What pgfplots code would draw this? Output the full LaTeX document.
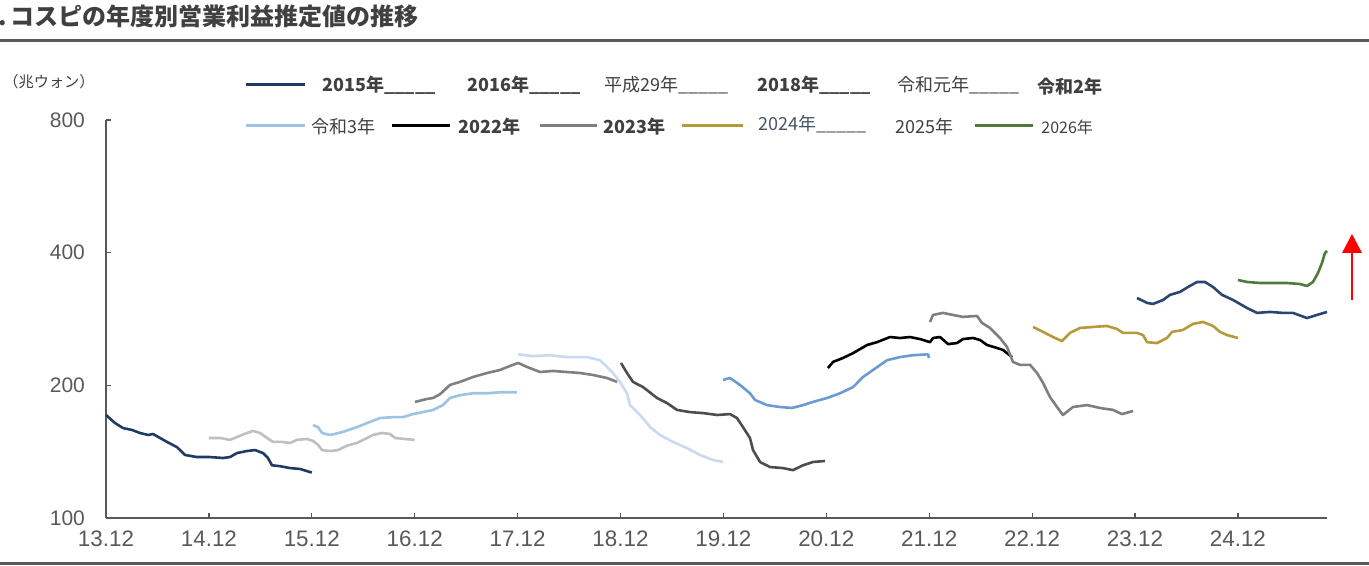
\documentclass[border=0pt]{standalone}
\usepackage{fontspec}
\setmainfont{Liberation Sans}
\newfontfamily\jp{Noto Sans CJK JP}
\usepackage{pgfplots}
\pgfplotsset{compat=1.18}
\definecolor{cA}{HTML}{1F3B63}
\definecolor{cB}{HTML}{BFBFBF}
\definecolor{cC}{HTML}{9DC3E6}
\definecolor{cD}{HTML}{808080}
\definecolor{cE}{HTML}{C9DAF0}
\definecolor{cF}{HTML}{4D4D4D}
\definecolor{cG}{HTML}{6A9BD3}
\definecolor{cH}{HTML}{000000}
\definecolor{cI}{HTML}{7F7F7F}
\definecolor{cJ}{HTML}{B59A3A}
\definecolor{cK}{HTML}{2A4670}
\definecolor{cL}{HTML}{4E7A3A}
\definecolor{txt}{HTML}{404040}
\definecolor{axg}{HTML}{595959}
\definecolor{lg24}{HTML}{44546A}
\begin{document}
\begin{tikzpicture}
\begin{scope}[x=0.5pt,y=-0.5pt]
\useasboundingbox (0,0) rectangle (1369,566);
\draw[line width=1.1pt, axg] (0,40.5) -- (1369,40.5);
\draw[line width=1.1pt, axg] (0,563.5) -- (1369,563.5);
\node[anchor=west, inner sep=0pt, font=\jp\bfseries\fontsize{12}{14}\selectfont, text=txt] at (-2,16) {.\,コスピの年度別営業利益推定値の推移};
\node[anchor=west, inner sep=0pt, font=\jp\fontsize{7.6}{9}\selectfont, text=txt] at (3,82) {（兆ウォン）};
% legend row 1
\draw[line width=1.5pt, cA] (246,85) -- (305,85);
\node[anchor=west, inner sep=0pt, font=\jp\bfseries\fontsize{9}{10}\selectfont, text=txt] at (322,85) {2015年\_\_\_\_\_};
\node[anchor=west, inner sep=0pt, font=\jp\bfseries\fontsize{9}{10}\selectfont, text=txt] at (467,85) {2016年\_\_\_\_\_};
\node[anchor=west, inner sep=0pt, font=\jp\fontsize{9}{10}\selectfont, text=txt] at (604,85) {平成29年\_\_\_\_\_};
\node[anchor=west, inner sep=0pt, font=\jp\bfseries\fontsize{9}{10}\selectfont, text=txt] at (757,85) {2018年\_\_\_\_\_};
\node[anchor=west, inner sep=0pt, font=\jp\fontsize{9}{10}\selectfont, text=txt] at (897,85) {令和元年\_\_\_\_\_};
\node[anchor=west, inner sep=0pt, font=\jp\bfseries\fontsize{9}{10}\selectfont, text=txt] at (1037,87) {令和2年};
% legend row 2
\draw[line width=1.5pt, cC] (246,126) -- (305,126);
\node[anchor=west, inner sep=0pt, font=\jp\fontsize{9}{10}\selectfont, text=txt] at (311,127) {令和3年};
\draw[line width=1.5pt, cH] (392,126) -- (450,126);
\node[anchor=west, inner sep=0pt, font=\jp\bfseries\fontsize{9}{10}\selectfont, text=txt] at (458,127) {2022年};
\draw[line width=1.5pt, cI] (540,126) -- (597,126);
\node[anchor=west, inner sep=0pt, font=\jp\bfseries\fontsize{9}{10}\selectfont, text=txt] at (603,127) {2023年};
\draw[line width=1.5pt, cJ] (682,126) -- (743,126);
\node[anchor=west, inner sep=0pt, font=\jp\fontsize{9}{10}\selectfont, text=lg24] at (758,124) {2024年\_\_\_\_\_};
\node[anchor=west, inner sep=0pt, font=\jp\fontsize{9}{10}\selectfont, text=txt] at (895,127) {2025年};
\draw[line width=1.5pt, cL] (975,126) -- (1033,126);
\node[anchor=west, inner sep=0pt, font=\jp\fontsize{8}{9}\selectfont, text=txt] at (1041,127) {2026年};
% red arrow
\draw[line width=0.9pt, red] (1352,300) -- (1352,250);
\fill[red] (1342,253) -- (1362,253) -- (1352,234) -- cycle;
\end{scope}
\begin{axis}[
  at={(53pt,-259pt)}, anchor=south west,
  scale only axis, width=610.5pt, height=199pt,
  xmin=0, xmax=11.866, ymin=100, ymax=800,
  ymode=log, log basis y=2,
  axis x line=bottom, axis y line=left,
  axis line style={-, draw=axg, line width=0.7pt},
  every tick/.style={draw=axg, line width=0.6pt},
  tick align=inside, major tick length=2.5pt,
  xtick={0,1,2,3,4,5,6,7,8,9,10,11},
  xticklabels={13.12,14.12,15.12,16.12,17.12,18.12,19.12,20.12,21.12,22.12,23.12,24.12},
  ytick={100,200,400,800},
  yticklabels={100,200,400,800},
  yminorticks=false, xminorticks=false,
  xticklabel style={font=\fontsize{11.2}{12}\selectfont, text=axg, yshift=-3pt},
  yticklabel style={font=\fontsize{10.5}{12}\selectfont, text=axg, xshift=-7pt},
  clip=false,
  every axis plot/.append style={line width=1.3pt, line join=round, mark=none},
]
% 2015
\addplot[cA] coordinates {(0,171.3)(0.087,164.3)(0.165,160.0)(0.253,158.4)(0.33,155.9)(0.41,154.3)(0.457,155.1)(0.525,151.9)(0.593,148.8)(0.69,144.8)(0.768,139.0)(0.884,137.5)(1.01,137.5)(1.137,136.8)(1.205,137.5)(1.273,140.4)(1.37,141.9)(1.448,142.6)(1.526,140.4)(1.574,136.8)(1.613,131.7)(1.691,131.1)(1.788,129.8)(1.885,129.2)(2.0,126.8)};
% 2016
\addplot[cB] coordinates {(1.0,151.9)(1.108,151.9)(1.205,150.4)(1.273,152.7)(1.37,155.9)(1.429,157.6)(1.497,155.9)(1.565,151.9)(1.623,148.8)(1.71,148.8)(1.788,148.0)(1.856,150.4)(1.953,151.1)(2.012,149.6)(2.06,146.6)(2.1,142.6)(2.177,141.9)(2.255,142.6)(2.342,145.9)(2.439,148.0)(2.536,151.9)(2.595,154.3)(2.682,155.9)(2.76,155.1)(2.81,151.9)(2.906,151.1)(3.0,150.4)};
% 2017
\addplot[cC] coordinates {(2.012,162.5)(2.06,160.8)(2.1,155.9)(2.177,154.3)(2.303,156.8)(2.439,160.8)(2.566,165.2)(2.663,168.6)(2.789,169.4)(2.886,169.4)(2.983,172.1)(3.081,173.9)(3.178,175.9)(3.275,180.4)(3.343,187.2)(3.44,190.0)(3.567,191.9)(3.703,191.9)(3.829,192.9)(3.994,192.9)};
% 2018
\addplot[cD] coordinates {(3.003,183.4)(3.12,186.3)(3.178,187.2)(3.246,190.9)(3.343,200.4)(3.44,203.6)(3.567,208.9)(3.703,213.3)(3.829,216.7)(3.926,221.3)(4.004,224.8)(4.091,220.2)(4.218,214.4)(4.344,215.6)(4.48,214.4)(4.606,213.3)(4.733,211.1)(4.869,207.8)(4.966,203.6)};
% 2019
\addplot[cE] coordinates {(4.004,235.2)(4.15,232.9)(4.315,234.1)(4.48,231.8)(4.674,231.8)(4.801,228.0)(4.869,220.2)(4.927,213.3)(4.995,203.6)(5.063,191.9)(5.092,180.4)(5.19,171.3)(5.287,160.8)(5.384,154.3)(5.51,148.8)(5.646,144.1)(5.773,139.0)(5.899,135.4)(5.996,134.0)};
% 2020
\addplot[cF] coordinates {(5.005,224.8)(5.063,213.3)(5.122,203.6)(5.219,198.2)(5.355,187.2)(5.452,182.3)(5.549,175.9)(5.675,173.9)(5.802,173.0)(5.938,171.3)(6.064,172.1)(6.132,168.6)(6.19,160.8)(6.258,151.9)(6.288,142.6)(6.356,134.0)(6.453,130.5)(6.579,129.8)(6.676,128.4)(6.774,131.7)(6.871,134.0)(6.987,134.7)};
% 2021
\addplot[cG] coordinates {(5.996,205.7)(6.064,207.8)(6.161,200.4)(6.258,191.9)(6.307,185.3)(6.424,180.4)(6.55,178.6)(6.667,177.7)(6.774,180.4)(6.871,183.4)(7.007,187.2)(7.133,191.9)(7.26,198.2)(7.357,208.9)(7.454,216.7)(7.59,228.0)(7.716,231.8)(7.843,234.1)(7.988,235.2)(7.998,230.6)};
% 2022
\addplot[cH] coordinates {(7.016,218.9)(7.065,226.0)(7.162,230.7)(7.26,236.6)(7.396,246.9)(7.493,250.6)(7.619,257.4)(7.716,256.1)(7.813,257.4)(7.911,254.7)(8.008,250.6)(8.037,256.1)(8.105,257.4)(8.183,248.1)(8.27,249.4)(8.328,254.7)(8.426,256.1)(8.494,253.4)(8.562,246.9)(8.659,243.1)(8.717,240.6)(8.805,231.8)};
% 2023
\addplot[cI] coordinates {(8.008,278.5)(8.037,288.9)(8.134,292.0)(8.231,288.9)(8.328,286.0)(8.465,287.4)(8.513,277.1)(8.591,269.9)(8.688,256.1)(8.756,244.4)(8.814,226.0)(8.882,222.6)(8.98,222.6)(9.048,213.3)(9.106,202.6)(9.174,188.1)(9.242,178.6)(9.3,171.3)(9.397,178.6)(9.534,180.4)(9.66,177.7)(9.786,175.9)(9.874,172.1)(9.981,174.9)};
% 2024
\addplot[cJ] coordinates {(9.009,271.3)(9.106,264.4)(9.203,257.4)(9.29,252.0)(9.368,263.0)(9.466,269.9)(9.592,271.3)(9.728,272.7)(9.825,268.5)(9.883,263.0)(10.02,263.0)(10.078,260.1)(10.117,250.6)(10.214,249.4)(10.311,256.1)(10.36,264.4)(10.466,267.1)(10.564,275.7)(10.661,278.5)(10.758,272.7)(10.826,264.4)(10.894,260.1)(11.001,256.1)};
% 2025
\addplot[cK] coordinates {(10.02,315.7)(10.117,307.6)(10.175,306.0)(10.272,312.4)(10.34,320.8)(10.437,325.8)(10.515,334.3)(10.603,343.2)(10.68,343.2)(10.758,334.3)(10.846,320.8)(10.953,312.4)(11.088,299.6)(11.186,292.0)(11.312,293.5)(11.438,292.0)(11.535,292.0)(11.671,284.3)(11.769,288.9)(11.866,293.5)};
% 2026
\addplot[cL] coordinates {(11.001,346.8)(11.088,343.2)(11.215,341.4)(11.341,341.4)(11.477,341.4)(11.603,339.6)(11.671,336.1)(11.73,343.2)(11.778,359.7)(11.817,379.0)(11.846,399.4)(11.866,403.6)};
\end{axis}
\end{tikzpicture}
\end{document}
